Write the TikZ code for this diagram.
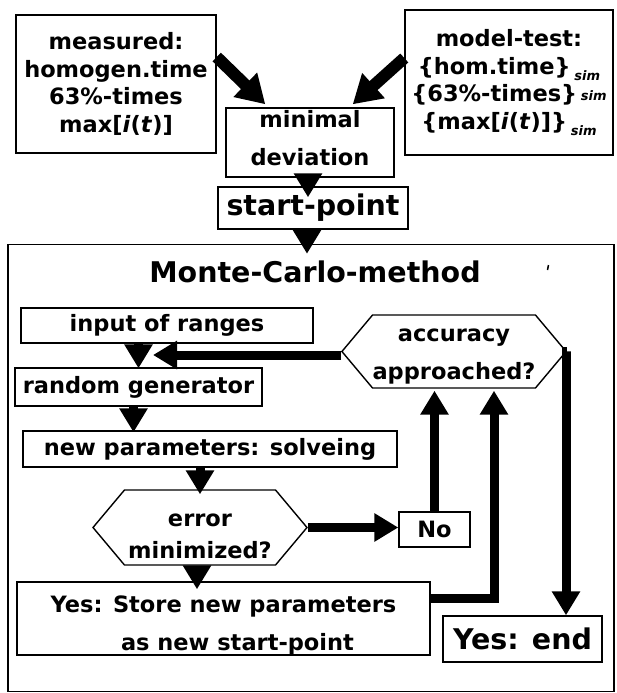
\documentclass[tikz,border=0pt]{standalone}
\usepackage{fontspec}
\setmainfont{DejaVu Sans}
\usepackage{tikz}
\usetikzlibrary{arrows.meta, shapes.symbols}

\newcommand{\simidx}{\raisebox{-6pt}{\fontsize{13}{13}\selectfont\itshape sim}}
\newcommand{\simup}{\raisebox{1pt}{\fontsize{13}{13}\selectfont\itshape sim}}
% text moved down inside its shape, size of the node kept
\newcommand{\lowered}[2]{\raisebox{#1}[0pt][0pt]{\begin{tabular}{@{}c@{}}#2\end{tabular}}}

\tikzset{
    box/.style={draw, line width=1.4pt, inner sep=0pt, align=center},
    hexa/.style={box, signal, signal to=west and east, signal pointer angle=100},
    txt/.style={font=\fontsize{22.5}{27.5}\selectfont\bfseries},
    widetxt/.style={font=\fontsize{22.5}{38}\selectfont\bfseries},
    bigtxt/.style={font=\fontsize{28.5}{34}\selectfont\bfseries},
    flow/.style={line width=9pt, -{Triangle[length=24pt,width=27pt]}},
    heavy/.style={line width=12pt, -{Triangle[length=28pt,width=32pt]}}
}

\begin{document}
\begin{tikzpicture}[x=1pt, y=-1pt]
    \useasboundingbox (0,0) rectangle (616,693);

    % Input boxes on top
    \node[box, txt, minimum width=200pt, minimum height=138pt] (meas) at (116,84)
        {measured:\\homogen.time\\63\%-times\\max[\textit{i}(\textit{t})]};
    \node[box, txt, minimum width=208pt, minimum height=145pt] (model) at (509,82.5)
        {model-test:\\\{hom.time\}\,\simidx\\\{63\%-times\}\,\simup\\\{max[\textit{i}(\textit{t})]\}\,\simidx};
    \node[box, widetxt, minimum width=168pt, minimum height=69pt] (mindev) at (310,142.5)
        {\lowered{-2pt}{minimal\\deviation}};
    \node[box, bigtxt, minimum width=190pt, minimum height=42pt] (start) at (313,208) {start-point};

    % Monte-Carlo frame
    \node[box, minimum width=606pt, minimum height=447pt] (mc) at (311,468) {};
    \node[bigtxt] (title) at (315,272) {Monte-Carlo-method};
    \draw[line width=1.5pt] (548.5,265) -- (547.5,270);

    % Steps inside the frame
    \node[box, txt, minimum width=292pt, minimum height=35pt] (input) at (167,325.5) {input of ranges};
    \node[box, txt, minimum width=247pt, minimum height=38pt] (random) at (138.5,387) {random generator};
    \node[box, txt, minimum width=374pt, minimum height=36pt] (newpar) at (210,449) {new parameters: solveing};
    \node[hexa, font=\fontsize{22.5}{32}\selectfont\bfseries, minimum width=214pt, minimum height=75pt] (error) at (200,527.5)
        {\lowered{-14pt}{error\\minimized?}};
    \node[box, txt, minimum width=71pt, minimum height=35pt] (no) at (434.5,529.5) {No};
    \node[box, widetxt, minimum width=413pt, minimum height=73pt] (store) at (223.5,618.5)
        {\lowered{-11pt}{Yes: Store new parameters\\\hspace*{28pt}as new start-point}};
    \node[box, bigtxt, minimum width=159pt, minimum height=46pt] (end) at (522.5,639) {Yes: end};
    \node[hexa, widetxt, minimum width=212pt, minimum height=73pt] (acc) at (454,351.5)
        {\lowered{-7pt}{accuracy\\approached?}};
    \coordinate (back) at (153,355);

    % Arrows
    \draw[heavy] ([yshift=27pt]meas.east) -- ([xshift=40pt,yshift=3pt]mindev.north west);
    \draw[heavy] ([yshift=24.5pt]model.west) -- ([xshift=-42pt,yshift=3pt]mindev.north east);
    \draw[flow] ([xshift=-2pt]mindev.south) -- ([xshift=-2pt,yshift=-11pt]mindev.south |- start.north);
    \draw[flow] ([xshift=-6pt]start.south) -- ([xshift=-6pt,yshift=-10pt]start.south |- mc.north);
    \draw[flow] (acc.west |- back) -- (back);
    \draw[flow] (input.south -| random.north) -- ([yshift=-1pt]random.north);
    \draw[flow] ([xshift=-5pt]random.south) -- ([xshift=-5pt,yshift=-2pt]random.south |- newpar.north);
    \draw[flow] (newpar.south -| error.north) -- ([yshift=-5pt]error.north);
    \draw[flow] ([xshift=-3pt]error.south) -- ([xshift=-3pt,yshift=-8pt]error.south |- store.north);
    \draw[flow] (error.east) -- (error.east -| no.west);
    \draw[flow] (no.north) -- ([yshift=-2pt]no.north |- acc.south);
    \draw[flow] ([yshift=20pt]store.east) -| ([xshift=40pt,yshift=-2pt]acc.south);
    \draw[flow] (acc.east) -| ([xshift=43.5pt]end.north);
\end{tikzpicture}
\end{document}
